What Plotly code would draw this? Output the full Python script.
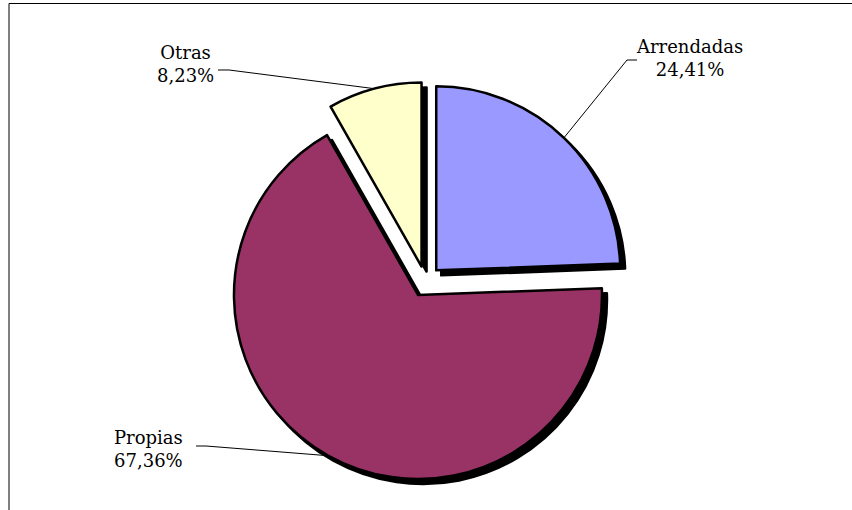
import math
import plotly.graph_objects as go

# ---- data ----
labels = ["Arrendadas", "Propias", "Otras"]
values = [24.41, 67.36, 8.23]
value_text = ["24,41%", "67,36%", "8,23%"]
colors = ["#9999FF", "#993366", "#FFFFCC"]

# ---- layout geometry (pixels) ----
W, H = 852, 510
PULL = 0.084
CX, CY = 425.5, 281.5      # pie centre
R = 184                    # pie radius
SH = 5                     # shadow offset
FONT = "DejaVu Serif"
FSIZE = 18

# label centres and leader-line starts (pixels)
label_pos = {"Arrendadas": (689, 58), "Propias": (148, 449), "Otras": (185, 64)}
leader_start = {"Arrendadas": [(637, 60), (627, 60)],
                "Propias": [(196, 446), (206, 446)],
                "Otras": [(218, 70), (229, 70)]}


def px(x):
    return x / W


def py(y):
    return 1 - y / H


box = 2 * R * (1 + PULL)
dom_x = [px(CX - box / 2), px(CX + box / 2)]
dom_y = [py(CY + box / 2), py(CY - box / 2)]

fig = go.Figure()

# shadow
fig.add_trace(go.Pie(
    labels=labels, values=values, sort=False, direction="clockwise", rotation=0,
    pull=[PULL] * len(values),
    marker=dict(colors=["#000000"] * len(values), line=dict(color="#000000", width=2.5)),
    textinfo="none", hoverinfo="skip", showlegend=False,
    domain=dict(x=[dom_x[0] + SH / W, dom_x[1] + SH / W],
                y=[dom_y[0] - SH / H, dom_y[1] - SH / H]),
))

# main pie
fig.add_trace(go.Pie(
    labels=labels, values=values, sort=False, direction="clockwise", rotation=0,
    pull=[PULL] * len(values),
    marker=dict(colors=colors, line=dict(color="#000000", width=2.5)),
    textinfo="none", hoverinfo="label+percent", showlegend=False,
    domain=dict(x=dom_x, y=dom_y),
))

shapes = []
annotations = []
total = sum(values)
cum = 0.0
for lab, v, vt in zip(labels, values, value_text):
    mid = 2 * math.pi * (cum + v / 2) / total
    cum += v
    ax = CX + R * (1 + PULL) * math.sin(mid)
    ay = CY - R * (1 + PULL) * math.cos(mid)
    pts = leader_start[lab] + [(ax, ay)]
    path = "M " + " L ".join(f"{px(x):.5f},{py(y):.5f}" for x, y in pts)
    shapes.append(dict(type="path", xref="paper", yref="paper", path=path,
                       line=dict(color="#000000", width=1), layer="above"))
    lx, ly = label_pos[lab]
    annotations.append(dict(x=px(lx), y=py(ly), xref="paper", yref="paper",
                            text=f"{lab}<br>{vt}", showarrow=False,
                            xanchor="center", yanchor="middle", align="center",
                            font=dict(family=FONT, size=FSIZE, color="#000000")))

# frame (top and left edges)
shapes.append(dict(type="line", xref="paper", yref="paper",
                   x0=px(9), y0=py(3.5), x1=1, y1=py(3.5),
                   line=dict(color="#000000", width=1)))
shapes.append(dict(type="line", xref="paper", yref="paper",
                   x0=px(9), y0=py(3.5), x1=px(9), y1=0,
                   line=dict(color="#000000", width=1)))

fig.update_layout(
    width=W, height=H,
    margin=dict(l=0, r=0, t=0, b=0),
    paper_bgcolor="#FFFFFF", plot_bgcolor="#FFFFFF",
    showlegend=False,
    shapes=shapes, annotations=annotations,
)

fig.write_html("out.html", config={"displayModeBar": False},
               post_script="document.body.style.margin='0';")
